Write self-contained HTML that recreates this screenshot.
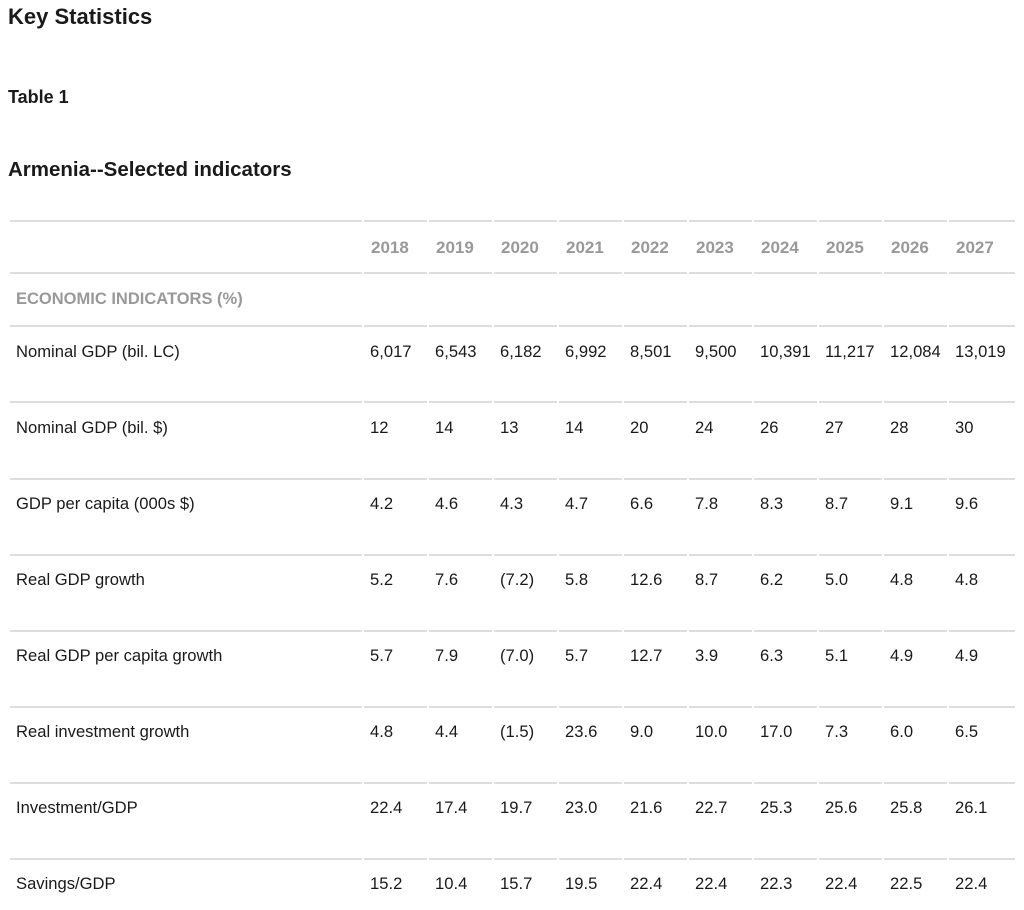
<!DOCTYPE html>
<html><head><meta charset="utf-8"><style>
body{margin:0;width:1024px;height:910px;background:#fff;font-family:"Liberation Sans",Arial,sans-serif;color:#1a1a1a;position:relative;overflow:hidden}
.a{position:absolute;white-space:nowrap}
.l{position:absolute;height:2px;background:#ddd}
.h{color:#999;font-weight:bold;font-size:17px}
.d{font-size:16.6px}
</style></head><body>
<div class="a" style="left:8px;top:4px;font-size:22px;font-weight:bold">Key Statistics</div>
<div class="a" style="left:8px;top:87px;font-size:18px;font-weight:bold">Table 1</div>
<div class="a" style="left:8px;top:158px;font-size:20.5px;font-weight:bold">Armenia--Selected indicators</div>
<div id="t"></div>
<script>
var cols=[10,364,429,494,559,624,689,754,819,884,949],ends=[362,427,492,557,622,687,752,817,882,947,1015];
var lines=[220,272,325,401,478,554,630,706,782,858];
var h='';
lines.forEach(function(y){for(var i=0;i<cols.length;i++)h+='<div class="l" style="top:'+y+'px;left:'+cols[i]+'px;width:'+(ends[i]-cols[i])+'px"></div>';});
var yrs=['2018','2019','2020','2021','2022','2023','2024','2025','2026','2027'];
yrs.forEach(function(t,i){h+='<div class="a h" style="left:'+(cols[i+1]+7)+'px;top:238px">'+t+'</div>';});
h+='<div class="a" style="left:16px;top:290px;color:#999;font-size:16.5px;font-weight:bold">ECONOMIC INDICATORS (%)</div>';
var rows=[['Nominal GDP (bil. LC)','6,017','6,543','6,182','6,992','8,501','9,500','10,391','11,217','12,084','13,019'],
['Nominal GDP (bil. $)','12','14','13','14','20','24','26','27','28','30'],
['GDP per capita (000s $)','4.2','4.6','4.3','4.7','6.6','7.8','8.3','8.7','9.1','9.6'],
['Real GDP growth','5.2','7.6','(7.2)','5.8','12.6','8.7','6.2','5.0','4.8','4.8'],
['Real GDP per capita growth','5.7','7.9','(7.0)','5.7','12.7','3.9','6.3','5.1','4.9','4.9'],
['Real investment growth','4.8','4.4','(1.5)','23.6','9.0','10.0','17.0','7.3','6.0','6.5'],
['Investment/GDP','22.4','17.4','19.7','23.0','21.6','22.7','25.3','25.6','25.8','26.1'],
['Savings/GDP','15.2','10.4','15.7','19.5','22.4','22.4','22.3','22.4','22.5','22.4']];
rows.forEach(function(r,j){var y=342+j*76;r.forEach(function(t,i){h+='<div class="a d" style="left:'+(i==0?16:cols[i]+6)+'px;top:'+y+'px">'+t+'</div>';});});
document.getElementById('t').innerHTML=h;
</script>
</body></html>
